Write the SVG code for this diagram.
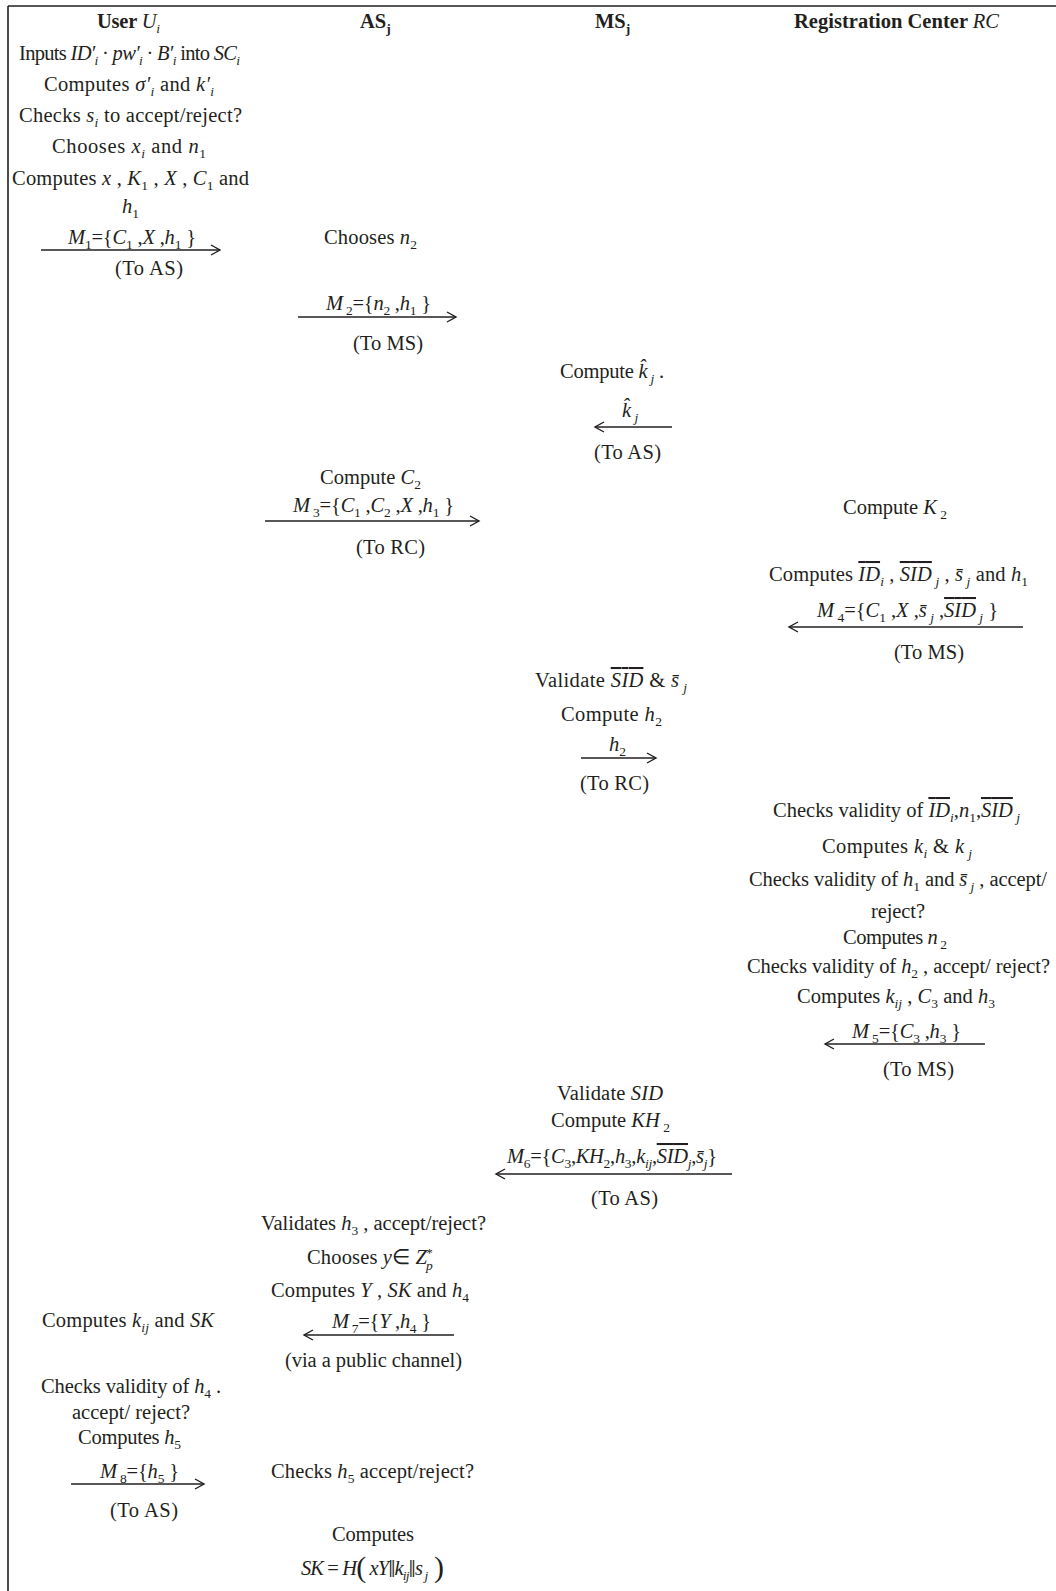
<svg xmlns="http://www.w3.org/2000/svg" width="1056" height="1591" viewBox="0 0 1056 1591">
<style>
text{font-family:"Liberation Serif","Times New Roman",serif;font-size:20.5px;fill:#231f20}
.i{font-style:italic}
.s{font-size:13.5px}
.b{font-weight:bold}
.o{text-decoration:overline}
.c{stroke:#231f20;stroke-width:1.6;fill:none}
.f{stroke:#231f20;stroke-width:1.6;fill:none}
</style>
<defs>
<marker id="ah" markerUnits="userSpaceOnUse" markerWidth="14" markerHeight="14" refX="11" refY="6" orient="auto">
<path d="M2,1 L11,6 L2,11" fill="none" stroke="#231f20" stroke-width="1.4"/>
</marker>
</defs>
<rect width="1056" height="1591" fill="#ffffff"/>
<g id="frame">
<line class="f" x1="8" y1="6" x2="1056" y2="6"/>
<line class="f" x1="8" y1="6" x2="8" y2="1591"/>
</g>

<g id="headers">
<text x="97" y="28" class="b" textLength="63" lengthAdjust="spacing">User <tspan class="i" font-weight="normal">U</tspan><tspan class="i s" font-weight="normal" dy="5">i</tspan></text>
<text x="360" y="28" class="b">AS<tspan class="s" dy="5">j</tspan></text>
<text x="595" y="28" class="b">MS<tspan class="s" dy="5">j</tspan></text>
<text x="794" y="28" class="b" textLength="205" lengthAdjust="spacing">Registration Center  <tspan class="i" font-weight="normal">RC</tspan></text>
</g>

<g id="user-steps">
<text x="19" y="60" textLength="221" lengthAdjust="spacing">Inputs  <tspan class="i">ID′</tspan><tspan class="i s" dy="5">i</tspan><tspan dy="-5"> · </tspan><tspan class="i">pw′</tspan><tspan class="i s" dy="5">i</tspan><tspan dy="-5"> · </tspan><tspan class="i">B′</tspan><tspan class="i s" dy="5">i</tspan><tspan dy="-5"> into  </tspan><tspan class="i">SC</tspan><tspan class="i s" dy="5">i</tspan></text>
<text x="44" y="91" textLength="170" lengthAdjust="spacing">Computes  <tspan class="i">σ′</tspan><tspan class="i s" dy="5">i</tspan><tspan dy="-5">  and  </tspan><tspan class="i">k′</tspan><tspan class="i s" dy="5">i</tspan></text>
<text x="19" y="122" textLength="223" lengthAdjust="spacing">Checks  <tspan class="i">s</tspan><tspan class="i s" dy="5">i</tspan><tspan dy="-5">  to accept/reject?</tspan></text>
<text x="52" y="153" textLength="154" lengthAdjust="spacing">Chooses   <tspan class="i">x</tspan><tspan class="i s" dy="5">i</tspan><tspan dy="-5"> and  </tspan><tspan class="i">n</tspan><tspan class="s" dy="5">1</tspan></text>
<text x="12" y="185" textLength="237" lengthAdjust="spacing">Computes  <tspan class="i">x</tspan> , <tspan class="i">K</tspan><tspan class="s" dy="5">1</tspan><tspan dy="-5"> ,  </tspan><tspan class="i">X</tspan> , <tspan class="i">C</tspan><tspan class="s" dy="5">1</tspan><tspan dy="-5">  and</tspan></text>
<text x="122" y="213" class="i">h<tspan class="s" dy="5" font-style="normal">1</tspan></text>
<text x="42" y="1327" textLength="172" lengthAdjust="spacing">Computes  <tspan class="i">k</tspan><tspan class="i s" dy="5">ij</tspan><tspan dy="-5"> and  </tspan><tspan class="i">SK</tspan></text>
<text x="41" y="1393" textLength="180" lengthAdjust="spacing">Checks validity of  <tspan class="i">h</tspan><tspan class="s" dy="5">4</tspan><tspan dy="-5"> .</tspan></text>
<text x="72" y="1419" textLength="118" lengthAdjust="spacing">accept/ reject?</text>
<text x="78" y="1444" textLength="103" lengthAdjust="spacing">Computes <tspan class="i">h</tspan><tspan class="s" dy="5">5</tspan></text>
</g>

<g id="as-steps">
<text x="324" y="244" textLength="93" lengthAdjust="spacing">Chooses  <tspan class="i">n</tspan><tspan class="s" dy="5">2</tspan></text>
<text x="320" y="484" textLength="101" lengthAdjust="spacing">Compute  <tspan class="i">C</tspan><tspan class="s" dy="5">2</tspan></text>
<text x="261" y="1230" textLength="225" lengthAdjust="spacing">Validates  <tspan class="i">h</tspan><tspan class="s" dy="5">3</tspan><tspan dy="-5"> , accept/reject?</tspan></text>
<text x="307" y="1264" textLength="126" lengthAdjust="spacing">Chooses  <tspan class="i">y</tspan>∈ <tspan class="i">Z</tspan><tspan class="i s" dy="6" dx="-1">p</tspan><tspan class="s" dy="-13" dx="-7">*</tspan></text>
<text x="271" y="1297" textLength="198" lengthAdjust="spacing">Computes  <tspan class="i">Y</tspan>  ,  <tspan class="i">SK</tspan> and <tspan class="i">h</tspan><tspan class="s" dy="5">4</tspan></text>
<text x="271" y="1478" textLength="203" lengthAdjust="spacing">Checks  <tspan class="i">h</tspan><tspan class="s" dy="5">5</tspan><tspan dy="-5"> accept/reject?</tspan></text>
<text x="332" y="1541" textLength="82" lengthAdjust="spacing">Computes</text>
<text x="301" y="1575" textLength="143" lengthAdjust="spacing"><tspan class="i">SK</tspan> = <tspan class="i">H</tspan><tspan font-size="30" dy="2">(</tspan><tspan dy="-2"> </tspan><tspan class="i">xY</tspan><tspan font-size="26" dy="2">‖</tspan><tspan class="i" dy="-2">k</tspan><tspan class="i s" dy="5">ij</tspan><tspan font-size="26" dy="-3">‖</tspan><tspan class="i" dy="-2">s</tspan><tspan class="i s" dy="5"> j</tspan><tspan font-size="30" dy="-3"> )</tspan></text>
</g>

<g id="ms-steps">
<text x="560" y="378" textLength="104" lengthAdjust="spacing">Compute <tspan class="i">k̂</tspan><tspan class="i s" dy="5"> j</tspan><tspan dy="-5"> .</tspan></text>
<text x="535" y="687" textLength="152" lengthAdjust="spacing">Validate  <tspan class="i o">SID</tspan> &amp;  <tspan class="i">s̄</tspan><tspan class="i s" dy="5"> j</tspan></text>
<text x="561" y="721" textLength="101" lengthAdjust="spacing">Compute  <tspan class="i">h</tspan><tspan class="s" dy="5">2</tspan></text>
<text x="557" y="1100" textLength="106" lengthAdjust="spacing">Validate  <tspan class="i">SID</tspan></text>
<text x="551" y="1127" textLength="119" lengthAdjust="spacing">Compute  <tspan class="i">KH</tspan><tspan class="s" dy="5"> 2</tspan></text>
</g>

<g id="rc-steps">
<text x="843" y="514" textLength="104" lengthAdjust="spacing">Compute  <tspan class="i">K</tspan><tspan class="s" dy="5"> 2</tspan></text>
<text x="769" y="581" textLength="259" lengthAdjust="spacing">Computes  <tspan class="i o">ID</tspan><tspan class="i s" dy="5">i</tspan><tspan dy="-5"> , </tspan><tspan class="i o">SID</tspan><tspan class="i s" dy="5"> j</tspan><tspan dy="-5"> ,  </tspan><tspan class="i">s̄</tspan><tspan class="i s" dy="5"> j</tspan><tspan dy="-5"> and  </tspan><tspan class="i">h</tspan><tspan class="s" dy="5">1</tspan></text>
<text x="773" y="817" textLength="247" lengthAdjust="spacing">Checks validity of  <tspan class="i o">ID</tspan><tspan class="i s" dy="5">i</tspan><tspan dy="-5">,</tspan><tspan class="i">n</tspan><tspan class="s" dy="5">1</tspan><tspan dy="-5">,</tspan><tspan class="i o">SID</tspan><tspan class="i s" dy="5"> j</tspan></text>
<text x="822" y="853" textLength="150" lengthAdjust="spacing">Computes  <tspan class="i">k</tspan><tspan class="i s" dy="5">i</tspan><tspan dy="-5"> &amp;  </tspan><tspan class="i">k</tspan><tspan class="i s" dy="5"> j</tspan></text>
<text x="749" y="886" textLength="298" lengthAdjust="spacing">Checks validity of  <tspan class="i">h</tspan><tspan class="s" dy="5">1</tspan><tspan dy="-5"> and  </tspan><tspan class="i">s̄</tspan><tspan class="i s" dy="5"> j</tspan><tspan dy="-5"> , accept/</tspan></text>
<text x="871" y="918" textLength="54" lengthAdjust="spacing">reject?</text>
<text x="843" y="944" textLength="104" lengthAdjust="spacing">Computes <tspan class="i">n</tspan><tspan class="s" dy="5"> 2</tspan></text>
<text x="747" y="973" textLength="303" lengthAdjust="spacing">Checks validity of  <tspan class="i">h</tspan><tspan class="s" dy="5">2</tspan><tspan dy="-5"> , accept/ reject?</tspan></text>
<text x="797" y="1003" textLength="198" lengthAdjust="spacing">Computes  <tspan class="i">k</tspan><tspan class="i s" dy="5">ij</tspan><tspan dy="-5"> ,  </tspan><tspan class="i">C</tspan><tspan class="s" dy="5">3</tspan><tspan dy="-5"> and </tspan><tspan class="i">h</tspan><tspan class="s" dy="5">3</tspan></text>
</g>

<g id="connectors">
<line class="c" x1="41" y1="250" x2="220" y2="250" marker-end="url(#ah)"/>
<line class="c" x1="298" y1="317" x2="456" y2="317" marker-end="url(#ah)"/>
<line class="c" x1="672" y1="427" x2="595" y2="427" marker-end="url(#ah)"/>
<line class="c" x1="265" y1="521" x2="479" y2="521" marker-end="url(#ah)"/>
<line class="c" x1="1023" y1="627" x2="789" y2="627" marker-end="url(#ah)"/>
<line class="c" x1="581" y1="758" x2="656" y2="758" marker-end="url(#ah)"/>
<line class="c" x1="985" y1="1044" x2="825" y2="1044" marker-end="url(#ah)"/>
<line class="c" x1="732" y1="1174" x2="496" y2="1174" marker-end="url(#ah)"/>
<line class="c" x1="454" y1="1335" x2="304" y2="1335" marker-end="url(#ah)"/>
<line class="c" x1="71" y1="1484" x2="204" y2="1484" marker-end="url(#ah)"/>
</g>

<g id="message-labels">
<text x="68" y="244" textLength="128" lengthAdjust="spacing"><tspan class="i">M</tspan><tspan class="s" dy="5">1</tspan><tspan dy="-5">={</tspan><tspan class="i">C</tspan><tspan class="s" dy="5">1</tspan><tspan dy="-5"> ,</tspan><tspan class="i">X</tspan> ,<tspan class="i">h</tspan><tspan class="s" dy="5">1</tspan><tspan dy="-5"> }</tspan></text>
<text x="115" y="275" textLength="68" lengthAdjust="spacing">(To AS)</text>
<text x="326" y="310" textLength="105" lengthAdjust="spacing"><tspan class="i">M</tspan><tspan class="s" dy="5"> 2</tspan><tspan dy="-5">={</tspan><tspan class="i">n</tspan><tspan class="s" dy="5">2</tspan><tspan dy="-5"> ,</tspan><tspan class="i">h</tspan><tspan class="s" dy="5">1</tspan><tspan dy="-5"> }</tspan></text>
<text x="353" y="350" textLength="70" lengthAdjust="spacing">(To MS)</text>
<text x="622" y="417"><tspan class="i">k̂</tspan><tspan class="i s" dy="5"> j</tspan></text>
<text x="594" y="459" textLength="67" lengthAdjust="spacing">(To AS)</text>
<text x="293" y="512" textLength="161" lengthAdjust="spacing"><tspan class="i">M</tspan><tspan class="s" dy="5"> 3</tspan><tspan dy="-5">={</tspan><tspan class="i">C</tspan><tspan class="s" dy="5">1</tspan><tspan dy="-5"> ,</tspan><tspan class="i">C</tspan><tspan class="s" dy="5">2</tspan><tspan dy="-5"> ,</tspan><tspan class="i">X</tspan> ,<tspan class="i">h</tspan><tspan class="s" dy="5">1</tspan><tspan dy="-5"> }</tspan></text>
<text x="356" y="554" textLength="69" lengthAdjust="spacing">(To RC)</text>
<text x="817" y="617" textLength="181" lengthAdjust="spacing"><tspan class="i">M</tspan><tspan class="s" dy="5"> 4</tspan><tspan dy="-5">={</tspan><tspan class="i">C</tspan><tspan class="s" dy="5">1</tspan><tspan dy="-5"> ,</tspan><tspan class="i">X</tspan> ,<tspan class="i">s̄</tspan><tspan class="i s" dy="5"> j</tspan><tspan dy="-5"> ,</tspan><tspan class="i o">SID</tspan><tspan class="i s" dy="5"> j</tspan><tspan dy="-5"> }</tspan></text>
<text x="894" y="659" textLength="70" lengthAdjust="spacing">(To MS)</text>
<text x="609" y="751"><tspan class="i">h</tspan><tspan class="s" dy="5">2</tspan></text>
<text x="580" y="790" textLength="69" lengthAdjust="spacing">(To RC)</text>
<text x="852" y="1038" textLength="109" lengthAdjust="spacing"><tspan class="i">M</tspan><tspan class="s" dy="5"> 5</tspan><tspan dy="-5">={</tspan><tspan class="i">C</tspan><tspan class="s" dy="5">3</tspan><tspan dy="-5"> ,</tspan><tspan class="i">h</tspan><tspan class="s" dy="5">3</tspan><tspan dy="-5"> }</tspan></text>
<text x="883" y="1076" textLength="71" lengthAdjust="spacing">(To MS)</text>
<text x="507" y="1163" textLength="210" lengthAdjust="spacing"><tspan class="i">M</tspan><tspan class="s" dy="5">6</tspan><tspan dy="-5">={</tspan><tspan class="i">C</tspan><tspan class="s" dy="5">3</tspan><tspan dy="-5">,</tspan><tspan class="i">KH</tspan><tspan class="s" dy="5">2</tspan><tspan dy="-5">,</tspan><tspan class="i">h</tspan><tspan class="s" dy="5">3</tspan><tspan dy="-5">,</tspan><tspan class="i">k</tspan><tspan class="i s" dy="5">ij</tspan><tspan dy="-5">,</tspan><tspan class="i o">SID</tspan><tspan class="i s" dy="5">j</tspan><tspan dy="-5">,</tspan><tspan class="i">s̄</tspan><tspan class="i s" dy="5">j</tspan><tspan dy="-5">}</tspan></text>
<text x="591" y="1205" textLength="67" lengthAdjust="spacing">(To AS)</text>
<text x="332" y="1328" textLength="99" lengthAdjust="spacing"><tspan class="i">M</tspan><tspan class="s" dy="5"> 7</tspan><tspan dy="-5">={</tspan><tspan class="i">Y</tspan> ,<tspan class="i">h</tspan><tspan class="s" dy="5">4</tspan><tspan dy="-5"> }</tspan></text>
<text x="285" y="1367" textLength="177" lengthAdjust="spacing">(via a public channel)</text>
<text x="100" y="1478" textLength="79" lengthAdjust="spacing"><tspan class="i">M</tspan><tspan class="s" dy="5"> 8</tspan><tspan dy="-5">={</tspan><tspan class="i">h</tspan><tspan class="s" dy="5">5</tspan><tspan dy="-5"> }</tspan></text>
<text x="110" y="1517" textLength="68" lengthAdjust="spacing">(To AS)</text>
</g>
</svg>
